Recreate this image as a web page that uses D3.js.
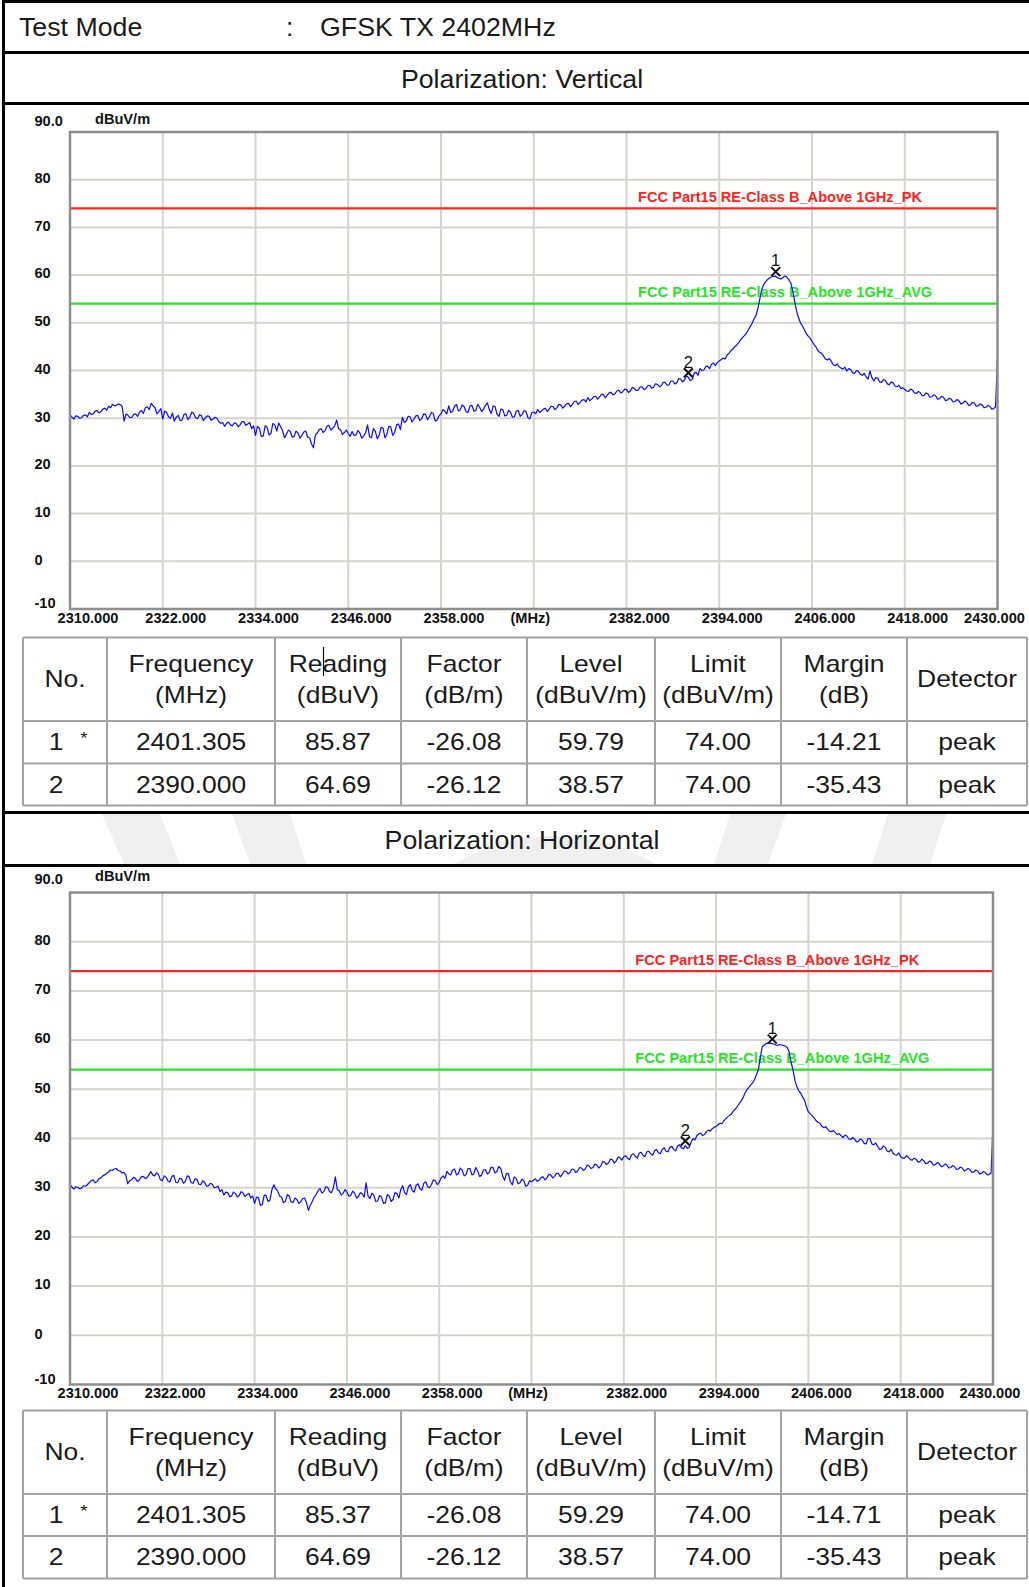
<!DOCTYPE html>
<html>
<head>
<meta charset="utf-8">
<script src="https://cdn.jsdelivr.net/npm/d3@7"></script>
<style>
  html, body { margin: 0; padding: 0; background: #fff; }
  svg { display: block; }
</style>
</head>
<body>
<svg id="page" width="1029" height="1587"></svg>
<script>
// ---------- data ----------
const testModeLabel = "Test Mode";
const testModeValue = "GFSK TX 2402MHz";
const polarizations = ["Polarization: Vertical", "Polarization: Horizontal"];

const freqStart = 2310;
const freqStep = 0.25;
const xTicks = [2310, 2322, 2334, 2346, 2358, 2370, 2382, 2394, 2406, 2418, 2430];
const yTicks = [-10, 0, 10, 20, 30, 40, 50, 60, 70, 80, 90];
const unitLabel = "dBuV/m";

const limitValues = [74, 54];
const limitNames = ["FCC Part15 RE-Class B_Above 1GHz_PK", "FCC Part15 RE-Class B_Above 1GHz_AVG"];
const limitColors = ["#ff2222", "#22e622"];

// measured trace, dBuV/m, 2310 → 2430 MHz every 0.25 MHz (one row = 5 MHz)
const traceVertical = [
  30.8,30.2,29.8,30.5,30.4,30.0,30.1,30.6,30.7,30.3,31.2,30.8,30.9,31.5,31.6,31.1,31.4,31.9,32.1,31.7,
  32.5,32.2,32.9,32.6,32.7,33.0,32.8,32.5,29.4,30.9,30.6,30.1,30.2,30.8,30.9,30.4,31.3,31.6,31.0,32.2,
  32.4,31.8,33.1,32.6,32.2,30.9,31.4,32.0,29.8,31.5,31.2,30.3,30.0,31.1,29.4,30.2,30.6,29.5,29.6,30.8,
  30.9,29.7,30.2,31.3,31.0,30.1,29.9,30.7,30.6,29.5,30.1,30.5,30.4,29.6,29.8,30.2,30.0,29.3,28.9,29.1,
  28.3,28.9,29.2,28.6,28.4,29.0,28.9,28.2,28.6,29.3,29.3,28.5,28.8,29.1,27.8,28.4,26.4,28.3,27.9,26.2,
  26.3,28.4,28.1,26.5,26.8,28.9,28.6,27.3,29.0,28.2,27.4,25.9,26.6,27.5,27.2,26.0,26.2,27.3,26.9,25.8,
  26.4,27.1,27.3,26.0,25.9,24.6,23.8,26.5,26.9,27.6,27.8,27.0,27.4,28.3,28.5,27.5,27.9,28.4,29.6,27.8,
  27.6,26.6,27.0,27.5,26.8,26.2,27.2,26.4,26.5,27.4,26.9,25.8,26.3,27.0,28.6,26.1,25.9,27.8,27.3,25.7,
  26.4,28.1,27.9,25.9,26.6,28.3,28.2,26.4,27.0,28.6,28.8,27.6,30.2,29.1,29.4,30.4,30.3,29.2,29.8,30.5,
  30.6,29.5,29.9,30.9,30.8,29.7,30.3,31.2,31.0,29.4,29.6,30.5,30.9,31.8,31.5,30.9,32.6,31.2,31.4,32.5,
  32.9,31.5,31.8,32.8,32.4,31.3,31.2,32.6,32.7,31.5,31.6,32.9,32.3,31.4,31.9,32.7,33.2,31.8,31.0,32.6,
  32.4,30.8,30.4,31.9,31.8,30.5,30.6,31.7,31.2,30.2,30.3,31.5,31.6,30.4,30.8,31.6,31.4,30.1,29.9,31.2,
  31.3,30.9,31.8,31.2,31.5,31.9,32.1,31.4,31.9,32.5,32.4,31.8,32.2,32.9,32.8,32.1,32.5,33.0,33.1,32.4,
  32.9,33.5,33.6,32.9,33.3,33.8,33.9,33.4,34.3,33.7,34.0,34.5,34.6,34.0,34.4,35.0,35.0,34.3,34.8,35.3,
  35.4,34.9,35.1,35.7,35.9,35.3,35.5,36.1,36.0,35.4,35.7,36.4,36.3,35.8,35.9,36.5,36.6,36.0,36.2,36.8,
  36.9,36.3,36.5,37.2,37.1,36.6,36.8,37.5,37.5,36.9,37.0,37.8,37.8,37.2,37.4,38.3,38.2,37.6,38.0,38.9,
  38.57,37.9,38.1,39.4,39.6,39.0,40.4,40.0,40.1,40.8,40.9,40.4,41.3,41.6,41.0,41.7,42.0,42.3,42.6,42.4,
  43.2,43.6,44.1,44.5,45.0,45.3,45.8,46.4,46.9,47.3,47.8,48.5,49.2,49.9,50.8,51.5,53.0,55.0,57.0,58.0,
  58.6,59.1,59.4,59.6,59.7,59.8,59.5,59.3,59.2,59.5,59.8,59.6,59.0,58.4,56.8,54.5,52.5,51.1,50.0,49.4,
  48.6,47.8,47.2,46.8,46.1,45.5,45.0,44.2,43.8,43.6,43.0,42.4,42.2,42.5,41.9,41.2,41.0,41.4,40.8,40.5,
  40.3,40.7,39.9,40.4,40.2,39.5,39.4,40.0,39.8,39.2,39.0,39.4,38.7,38.2,39.9,38.5,37.8,38.5,38.4,37.6,
  37.5,38.1,37.9,37.2,37.0,37.6,37.4,36.7,36.6,36.9,36.2,36.4,36.0,35.7,35.6,36.1,35.9,35.3,35.2,35.6,
  35.4,34.7,34.8,35.3,35.1,34.4,34.5,34.9,34.7,34.0,34.1,34.6,34.4,33.7,33.8,34.2,34.0,33.4,33.5,33.9,
  33.7,33.0,33.1,33.6,33.4,32.7,32.8,33.3,33.2,32.5,32.6,33.0,32.8,32.2,32.3,32.7,32.5,31.9,32.0,32.4,
  43.2
];
const traceHorizontal = [
  30.8,30.1,29.7,30.2,30.1,29.8,29.9,30.4,30.3,30.6,31.0,31.4,31.6,31.0,31.2,31.8,32.0,32.4,32.6,32.9,
  33.2,33.6,33.5,33.8,33.9,33.5,33.4,33.0,33.1,32.6,30.8,31.4,31.6,32.1,31.9,31.3,31.5,32.2,32.3,31.9,
  32.0,32.6,33.3,32.6,32.4,33.0,32.7,31.6,31.4,32.4,32.1,31.3,31.2,32.3,32.5,31.1,31.0,31.9,31.8,30.9,
  31.3,32.4,32.2,31.0,30.9,31.8,31.7,30.7,30.6,31.4,31.1,30.3,30.4,30.9,30.7,30.0,30.1,30.3,29.2,29.6,
  28.5,29.1,29.0,28.2,28.3,29.1,28.8,28.1,28.4,29.2,28.9,28.2,28.6,28.8,27.9,28.3,26.8,28.1,28.0,26.4,
  26.6,28.5,28.4,27.2,27.5,29.6,30.6,29.8,29.3,28.3,28.1,27.0,27.2,28.6,28.3,27.1,27.0,27.9,27.6,26.8,
  27.1,27.8,27.9,26.9,25.4,26.5,27.2,28.1,28.6,29.4,29.8,28.9,29.2,30.2,30.1,29.2,29.0,30.0,32.2,29.6,
  29.4,28.5,28.8,29.6,29.1,28.3,28.4,29.3,28.9,27.9,28.2,29.0,28.7,28.1,31.0,28.3,27.8,28.9,28.5,27.2,
  27.3,28.4,28.1,26.8,26.9,28.6,28.3,27.2,27.6,29.0,28.8,27.9,29.6,30.4,29.0,28.6,30.2,30.6,29.4,29.1,
  30.5,30.8,29.8,29.5,30.9,31.2,30.2,30.0,30.7,31.6,31.4,30.6,31.1,32.0,32.4,31.9,33.3,32.8,32.6,33.6,
  33.8,32.6,32.9,34.0,33.5,32.4,32.7,33.9,33.9,32.6,32.8,34.1,33.4,32.3,32.5,33.6,33.7,32.8,33.1,34.2,
  34.1,33.0,33.3,34.3,33.9,32.4,31.5,32.9,32.8,31.2,30.6,32.2,31.9,30.8,31.0,31.7,31.4,30.3,30.5,31.4,
  31.2,31.5,31.8,31.3,31.5,32.1,32.2,31.6,32.0,32.7,32.6,32.0,32.3,32.9,32.9,32.2,32.7,33.4,33.3,32.8,
  33.1,33.8,33.7,33.1,33.4,34.1,34.0,33.5,33.8,34.6,34.4,33.9,34.1,34.8,34.6,34.0,34.4,35.3,35.2,34.7,
  35.0,35.8,35.7,35.0,35.4,36.2,36.1,35.6,36.3,36.5,36.0,35.7,36.7,36.9,36.4,36.0,37.0,37.2,36.6,36.3,
  37.3,37.4,36.9,36.6,37.5,37.8,37.1,36.9,37.8,38.1,37.4,37.3,38.2,38.4,37.7,37.5,38.5,38.7,38.1,37.9,
  38.57,38.0,38.2,39.3,40.0,39.7,40.6,40.9,41.1,40.6,40.8,41.4,41.7,41.5,42.0,42.3,42.4,42.8,43.1,43.0,
  43.6,44.0,44.4,44.7,45.0,45.6,46.0,46.5,47.1,47.6,48.3,49.2,49.9,50.4,50.9,51.3,52.0,53.0,54.0,56.5,
  58.6,59.0,59.3,59.4,59.4,59.3,59.2,59.0,58.9,59.1,59.0,58.9,58.8,58.5,57.6,55.5,53.9,51.8,50.5,49.7,
  49.2,48.4,47.8,46.4,45.4,45.0,44.6,44.2,43.6,43.3,43.1,42.5,42.2,42.4,41.9,41.5,41.4,41.6,41.2,40.8,
  41.0,40.6,40.2,40.7,40.5,39.9,39.8,40.2,39.9,39.3,39.4,39.9,39.7,39.0,38.9,40.0,40.0,38.9,38.7,39.1,
  38.4,37.8,37.9,38.5,38.2,37.4,37.3,37.8,37.0,36.7,36.6,37.1,36.3,36.0,36.0,36.5,36.2,35.7,35.6,36.0,
  35.8,35.2,35.3,35.8,35.5,34.9,35.0,35.4,35.2,34.6,34.7,35.1,34.9,34.3,34.4,34.8,34.6,34.0,34.1,34.5,
  34.3,33.7,33.8,34.2,34.0,33.4,33.6,33.9,33.7,33.1,33.2,33.6,33.4,32.8,32.9,33.3,33.1,32.6,32.7,33.0,
  42.7
];

// marker table
const tableHeaders = [["No."], ["Frequency", "(MHz)"], ["Reading", "(dBuV)"], ["Factor", "(dB/m)"],
                      ["Level", "(dBuV/m)"], ["Limit", "(dBuV/m)"], ["Margin", "(dB)"], ["Detector"]];
const markerNo = ["1", "2"];
const markerFlag = ["*", ""];
const markerFreq = [2401.305, 2390.000];
const factorDb = [-26.08, -26.12];
const limitDb = [74.00, 74.00];
const detector = ["peak", "peak"];
const readingVertical = [85.87, 64.69];
const levelVertical = [59.79, 38.57];
const marginVertical = [-14.21, -35.43];
const readingHorizontal = [85.37, 64.69];
const levelHorizontal = [59.29, 38.57];
const marginHorizontal = [-14.71, -35.43];

// ---------- drawing ----------
const svg = d3.select("#page");
const SANS = "'Liberation Sans', Arial, sans-serif";

function label(g, x, yc, str, o = {}) {
  const size = o.size || 23, sx = o.sx || 1;
  return g.append("text")
    .attr("transform", `translate(${x},${yc + size * 0.355}) scale(${sx},1)`)
    .attr("font-family", SANS)
    .attr("font-size", size)
    .attr("font-weight", o.weight || "normal")
    .attr("text-anchor", o.anchor || "middle")
    .attr("fill", o.fill || "#1a1a1a")
    .text(str);
}

svg.append("rect").attr("width", 1029).attr("height", 1587).attr("fill", "#fff");

// faint page watermark, only visible in the band between the two sections
const defs = svg.append("defs");
defs.append("clipPath").attr("id", "band")
  .append("rect").attr("x", 5).attr("y", 814).attr("width", 1024).attr("height", 50);
const mark = svg.append("g").attr("clip-path", "url(#band)").attr("fill", "#efefef");
[
  [[102, 814], [160, 814], [180, 864], [124, 864]],
  [[232, 814], [290, 814], [306, 864], [250, 864]],
  [[730, 814], [786, 814], [768, 864], [714, 864]],
  [[888, 814], [946, 814], [930, 864], [872, 864]]
].forEach(p => mark.append("path").attr("d", d3.line()(p) + "Z"));
mark.append("circle").attr("cx", 555).attr("cy", 1032).attr("r", 196);

// black frame rules of the report page
const rules = svg.append("g").attr("stroke", "#000").attr("stroke-width", 3);
rules.append("line").attr("x1", 3.5).attr("x2", 3.5).attr("y1", 0).attr("y2", 1587);
[1.5, 52.5, 103.5, 812.5, 865.5].forEach(yy =>
  rules.append("line").attr("x1", 2).attr("x2", 1029).attr("y1", yy).attr("y2", yy));

const header = svg.append("g");
label(header, 19, 27.5, testModeLabel, { size: 25, anchor: "start", sx: 1.07 });
label(header, 286, 27.5, ":", { size: 25, anchor: "start", sx: 1.07 });
label(header, 320, 27.5, testModeValue, { size: 25, anchor: "start", sx: 1.07 });
label(header, 522, 79, polarizations[0], { size: 25, sx: 1.07 });
label(header, 522, 840.5, polarizations[1], { size: 25, sx: 1.07 });

function drawChart(cfg) {
  const g = svg.append("g");
  const x = d3.scaleLinear().domain([xTicks[0], xTicks[xTicks.length - 1]]).range([cfg.left, cfg.right]);
  const y = d3.scaleLinear().domain([yTicks[0], yTicks[yTicks.length - 1]]).range([cfg.bottom, cfg.top]);

  g.append("rect").attr("x", cfg.left).attr("y", cfg.top)
    .attr("width", cfg.right - cfg.left).attr("height", cfg.bottom - cfg.top).attr("fill", "#fff");

  // grid
  const grid = g.append("g").attr("stroke", "#d6d3ce").attr("stroke-width", 2);
  grid.selectAll("line.v").data(xTicks.slice(1, -1)).join("line").attr("class", "v")
    .attr("x1", d => x(d)).attr("x2", d => x(d)).attr("y1", cfg.top).attr("y2", cfg.bottom);
  grid.selectAll("line.h").data(yTicks.slice(1, -1)).join("line").attr("class", "h")
    .attr("x1", cfg.left).attr("x2", cfg.right).attr("y1", d => y(d)).attr("y2", d => y(d));

  // limit lines and their names
  limitValues.forEach((v, i) => {
    g.append("line").attr("x1", cfg.left).attr("x2", cfg.right)
      .attr("y1", y(v)).attr("y2", y(v))
      .attr("stroke", limitColors[i]).attr("stroke-width", 2.2);
    g.append("text")
      .attr("x", x(2383.5)).attr("y", y(v) - 6.6)
      .attr("font-family", SANS).attr("font-weight", "bold").attr("font-size", 14.6)
      .attr("fill", limitColors[i])
      .text(limitNames[i]);
  });

  // trace
  const line = d3.line().x((d, i) => x(freqStart + i * freqStep)).y(d => y(d));
  g.append("path").datum(cfg.trace).attr("d", line)
    .attr("fill", "none").attr("stroke", "#0a0aff").attr("stroke-width", 1.2)
    .attr("stroke-linejoin", "round");

  // plot frame
  g.append("rect").attr("x", cfg.left).attr("y", cfg.top)
    .attr("width", cfg.right - cfg.left).attr("height", cfg.bottom - cfg.top)
    .attr("fill", "none").attr("stroke", "#8e8e8e").attr("stroke-width", 2.5);

  // markers
  markerFreq.forEach((f, i) => {
    const mx = x(f), my = y(cfg.level[i]);
    const cy = my - 4.5;
    g.append("path")
      .attr("d", `M${mx - 4.5},${cy - 4.5}L${mx + 4.5},${cy + 4.5}M${mx + 4.5},${cy - 4.5}L${mx - 4.5},${cy + 4.5}`)
      .attr("stroke", "#111").attr("stroke-width", 2).attr("fill", "none");
    label(g, mx, my - 15.5, markerNo[i], { size: 16.5, fill: "#111" });
  });

  // axes
  const last = xTicks[xTicks.length - 1];
  const xAxis = d3.axisBottom(x).tickValues(xTicks).tickSize(0)
    .tickFormat(d => d === 2370 ? "(MHz)" : d.toFixed(3));
  const gx = g.append("g").attr("transform", `translate(0,${cfg.bottom})`).call(xAxis);
  gx.select(".domain").remove();
  gx.selectAll("text")
    .attr("font-family", SANS).attr("font-size", 14.6).attr("font-weight", "bold").attr("fill", "#111")
    .attr("y", 13.8).attr("dy", null)
    .attr("dx", d => d === xTicks[0] ? 17.5 : d === last ? -3.5 : d === 2370 ? -4 : 12.5);

  const yAxis = d3.axisLeft(y).tickValues(yTicks).tickSize(0)
    .tickFormat(d => d === 90 ? "90.0" : String(d));
  const gy = g.append("g").call(yAxis);
  gy.select(".domain").remove();
  gy.selectAll("text")
    .attr("font-family", SANS).attr("font-size", 14.6).attr("font-weight", "bold").attr("fill", "#111")
    .attr("text-anchor", "start").attr("x", 34.5).attr("dy", null)
    .attr("y", d => (d === 90 ? cfg.topLabelOffset : d === -10 ? -6.3 : -2.4) + 5.2);

  label(g, 95, cfg.top + cfg.unitOffset, unitLabel, { size: 14.6, weight: "bold", anchor: "start", fill: "#111" });
}

drawChart({ left: 70, right: 997.5, top: 132, bottom: 609, trace: traceVertical, level: levelVertical,
            topLabelOffset: -11.5, unitOffset: -13.5 });
drawChart({ left: 70, right: 993, top: 892.5, bottom: 1384.5, trace: traceHorizontal, level: levelHorizontal,
            topLabelOffset: -14.5, unitOffset: -16.5 });

// marker tables
const colEdges = [23, 107, 275, 401, 527, 655, 781, 907, 1027];
function drawTable(top, rowEdges, reading, level, margin) {
  const g = svg.append("g");
  const rows = rowEdges.map(r => top + r);
  const lines = g.append("g").attr("stroke", "#a3a3a3").attr("stroke-width", 2);
  rows.forEach(yy => lines.append("line").attr("x1", colEdges[0]).attr("x2", colEdges[colEdges.length - 1])
    .attr("y1", yy).attr("y2", yy));
  colEdges.forEach(xx => lines.append("line").attr("x1", xx).attr("x2", xx)
    .attr("y1", rows[0]).attr("y2", rows[rows.length - 1]));

  const centers = colEdges.slice(0, -1).map((e, i) => (e + colEdges[i + 1]) / 2);
  const hMid = (rows[0] + rows[1]) / 2;
  tableHeaders.forEach((h, i) => {
    if (h.length === 1) label(g, centers[i], hMid, h[0], { sx: 1.15 });
    else {
      label(g, centers[i], hMid - 15.5, h[0], { sx: 1.15 });
      label(g, centers[i], hMid + 15.5, h[1], { sx: 1.15 });
    }
  });
  markerNo.forEach((n, r) => {
    const cy = (rows[r + 1] + rows[r + 2]) / 2;
    label(g, 56, cy, n, { sx: 1.15 });
    if (markerFlag[r]) label(g, 84, cy - 4, markerFlag[r], { size: 17, sx: 1.1 });
    const cells = [markerFreq[r].toFixed(3), reading[r].toFixed(2), factorDb[r].toFixed(2),
                   level[r].toFixed(2), limitDb[r].toFixed(2), margin[r].toFixed(2), detector[r]];
    cells.forEach((c, k) => label(g, centers[k + 1], cy, c, { sx: 1.15 }));
  });
  return g;
}
const t1 = drawTable(637.5, [0, 83.5, 126, 168], readingVertical, levelVertical, marginVertical);
// text cursor left in the "Reading" header cell
t1.append("line").attr("x1", 323.5).attr("x2", 323.5).attr("y1", 647).attr("y2", 676)
  .attr("stroke", "#111").attr("stroke-width", 1.2);
drawTable(1410.5, [0, 83.5, 125.5, 168], readingHorizontal, levelHorizontal, marginHorizontal);
</script>
</body>
</html>
